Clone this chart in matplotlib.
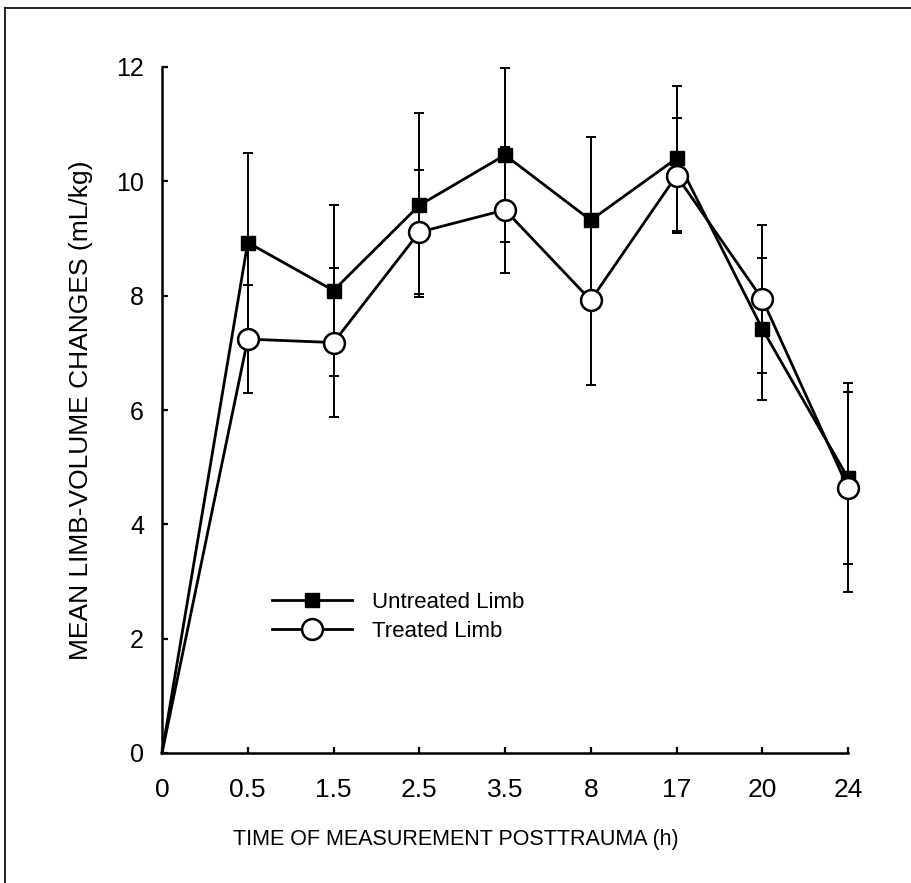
import matplotlib.pyplot as plt
from matplotlib.lines import Line2D

plt.rcParams['font.family'] = ['Liberation Sans', 'DejaVu Sans']

# data
time_labels = ["0", "0.5", "1.5", "2.5", "3.5", "8", "17", "20", "24"]
untreated = [0, 8.93, 8.09, 9.58, 10.46, 9.32, 10.40, 7.42, 4.81]
untreated_err = [0, 1.57, 1.50, 1.61, 1.52, 1.45, 1.27, 1.24, 1.50]
treated = [0, 7.24, 7.18, 9.11, 9.50, 7.92, 10.10, 7.94, 4.64]
treated_err = [0, 0.95, 1.31, 1.08, 1.10, 1.49, 1.01, 1.30, 1.83]

xpos = list(range(len(time_labels)))
W, H = 911, 883

fig = plt.figure(figsize=(W/100, H/100), dpi=100)
ax = fig.add_axes([162/W, 1-753/H, 686/W, 686/H])

lw = 2.0
#error bars first, no bar at the origin
ax.errorbar(xpos[1:], untreated[1:], yerr=untreated_err[1:], fmt='none', ecolor='black',
            elinewidth=1.4, capsize=3.8, capthick=1.4, zorder=2, clip_on=False)
ax.errorbar(xpos[1:], treated[1:], yerr=treated_err[1:], fmt='none', ecolor='black',
            elinewidth=1.4, capsize=3.8, capthick=1.4, zorder=2, clip_on=False)

#untreated limb
ax.plot(xpos, untreated, color='black', lw=lw, marker='s', ms=9.5, mfc='black',
        mec='black', markevery=list(range(1, 9)), zorder=3, clip_on=False)
#treated limb
ax.plot(xpos, treated, color='black', lw=lw, marker='o', ms=15, mfc='white',
        mec='black', mew=1.8, markevery=list(range(1, 9)), zorder=4, clip_on=False)

ax.set_xlim(0, 8)
ax.set_ylim(0, 12)
ax.set_xticks(xpos)
ax.set_xticklabels(time_labels, fontsize=19)
ax.set_yticks([0, 2, 4, 6, 8, 10, 12])
ax.tick_params(axis='y', labelsize=18, direction='in', length=4.5, width=1.6, pad=13)
ax.tick_params(axis='x', direction='in', length=4.5, width=1.6, pad=18)
ax.spines['top'].set_visible(False)
ax.spines['right'].set_visible(False)
ax.spines['left'].set_linewidth(1.8)
ax.spines['bottom'].set_linewidth(1.8)

ax.set_xlabel("TIME OF MEASUREMENT POSTTRAUMA (h)", fontsize=15.5)
ax.xaxis.set_label_coords((455.5-162)/686, (753-829)/686)
ax.set_ylabel("MEAN LIMB-VOLUME CHANGES (mL/kg)", fontsize=19)
ax.yaxis.set_label_coords((93-162)/686, 0.5)

handles = [Line2D([], [], color='black', lw=lw, marker='s', ms=9.5, mfc='black'),
           Line2D([], [], color='black', lw=lw, marker='o', ms=15, mfc='white', mew=1.8)]
ax.legend(handles, ['Untreated Limb', 'Treated Limb'], loc='center left',
          bbox_to_anchor=(272/W, 1-617/H), bbox_transform=fig.transFigure,
          frameon=False, fontsize=16, borderpad=0, borderaxespad=0,
          handlelength=3.6, handletextpad=0.9, labelspacing=0.35)

# page frame around the figure
fig.add_artist(Line2D([5/W, 5/W], [0, 1-8/H], color='black', lw=1.2))
fig.add_artist(Line2D([5/W, 1], [1-8/H, 1-8/H], color='black', lw=1.2))

fig.savefig("out.png", dpi=100)
